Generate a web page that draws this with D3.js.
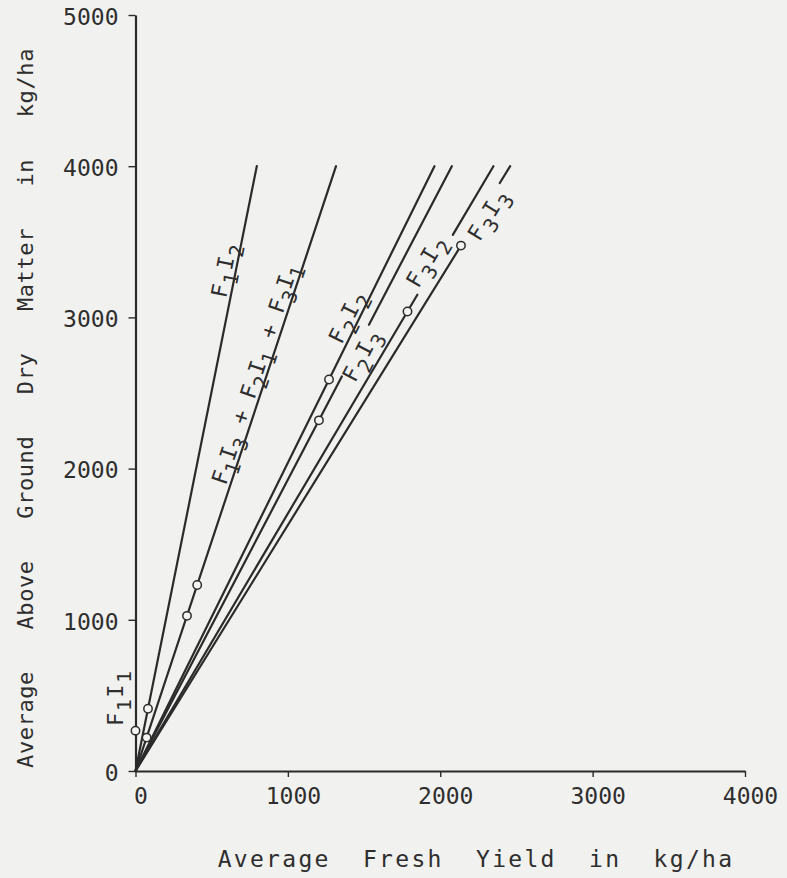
<!DOCTYPE html>
<html>
<head>
<meta charset="utf-8">
<script src="https://cdn.jsdelivr.net/npm/d3@7"></script>
<style>
  html, body { margin: 0; padding: 0; background: #f1f1ef; }
  svg text { font-family: "DejaVu Sans Mono", "Liberation Mono", monospace; fill: #2e2e2e; white-space: pre; }
</style>
</head>
<body>
<div class="chart"></div>
<script>
'use strict';
(function() {
  // Data (kg/ha)
  var lineNames = ['F1I2', 'F1I3 + F2I1 + F3I1', 'F2I2', 'F2I3', 'F3I2', 'F3I3'];
  var lineFreshAt4000 = [796, 1316, 1962, 2076, 2349, 2459];   // fresh yield where each line reaches 4000 dry matter
  var lineDryEnd = 4000;

  var pointNames = ['F1I1', 'F1I2', 'F1I3', 'F2I1', 'F3I1', 'F2I2', 'F2I3', 'F3I2', 'F3I3'];
  var pointFresh = [0, 82, 73, 338, 405, 1270, 1204, 1785, 2136];
  var pointDry = [267, 412, 221, 1026, 1230, 2589, 2319, 3039, 3475];

  var xTicks = [0, 1000, 2000, 3000, 4000];
  var yTicks = [0, 1000, 2000, 3000, 4000, 5000];

  // Label layout along each line (dry value of label centre, baseline offset, line gap)
  var labelLayout = [
    { at: 3301, side: 4 },
    { at: 2602, side: 4 },
    { at: 2972, side: 4 },
    { at: 2774, side: -15, gap: [2609, 2952] },
    { at: 3341, side: 2, gap: [3150, 3546] },
    { at: 3704, side: -14, gap: [3475, 3889] }
  ];

  var w = 787;
  var h = 878;
  var margin = { left: 135.5, right: 42, top: 15, bottom: 107 };
  var ink = '#2b2b2b';

  var svg = d3.select('.chart')
    .append('svg')
    .attr('width', w)
    .attr('height', h);

  svg.append('rect')
    .attr('width', w)
    .attr('height', h)
    .attr('fill', '#f1f1ef');

  var x = d3.scaleLinear().domain([0, 4000]).range([margin.left, w - margin.right]);
  var y = d3.scaleLinear().domain([0, 5000]).range([h - margin.bottom, margin.top]);

  // Axes
  var xAxis = d3.axisBottom(x)
    .tickValues(xTicks)
    .tickFormat(d3.format('d'))
    .tickSizeInner(6)
    .tickSizeOuter(0)
    .tickPadding(11);

  var gx = svg.append('g')
    .attr('transform', 'translate(0,' + y(0) + ')')
    .call(xAxis);
  gx.select('.domain').attr('stroke', ink).attr('stroke-width', 2.2);
  gx.selectAll('.tick line').attr('stroke', ink).attr('stroke-width', 1.4);
  gx.selectAll('.tick text')
    .attr('font-size', 23)
    .attr('dx', 5)
    .attr('fill', ink);

  var yAxis = d3.axisLeft(y)
    .tickValues(yTicks)
    .tickFormat(d3.format('d'))
    .tickSizeInner(7)
    .tickSizeOuter(0)
    .tickPadding(10);

  var gy = svg.append('g')
    .attr('transform', 'translate(' + x(0) + ',0)')
    .call(yAxis);
  gy.select('.domain').attr('stroke', ink).attr('stroke-width', 2.2);
  gy.selectAll('.tick line').attr('stroke', ink).attr('stroke-width', 1.4);
  gy.selectAll('.tick text')
    .attr('font-size', 23)
    .attr('dy', '0.4em')
    .attr('fill', ink);

  // Axis titles
  svg.append('text')
    .attr('x', 476)
    .attr('y', 867)
    .attr('text-anchor', 'middle')
    .attr('font-size', 23)
    .attr('letter-spacing', 2.3)
    .text('Average  Fresh  Yield  in  kg/ha');

  svg.append('text')
    .attr('transform', 'translate(33,' + 408 + ') rotate(-90)')
    .attr('text-anchor', 'middle')
    .attr('font-size', 22)
    .attr('letter-spacing', 0.6)
    .text('Average   Above   Ground   Dry   Matter   in   kg/ha');

  // Subscript label helper: digits become subscripts
  var addLabel = function(sel, str, size) {
    var subSize = Math.round(size * 0.9);
    var shift = Math.round(size * 0.35);
    var down = false;
    str.split('').forEach(function(ch) {
      var isSub = /[0-9]/.test(ch);
      var t = sel.append('tspan').text(ch);
      if (isSub) {
        t.attr('font-size', subSize);
        if (!down) { t.attr('dy', shift); down = true; }
      } else {
        t.attr('font-size', size);
        if (down) { t.attr('dy', -shift); down = false; }
      }
    });
  };

  // Lines from origin
  var lines = svg.append('g').attr('class', 'lines');
  lineNames.forEach(function(name, i) {
    var r = lineFreshAt4000[i] / lineDryEnd;
    var lay = labelLayout[i];
    var segs = lay.gap ? [[0, lay.gap[0]], [lay.gap[1], lineDryEnd]] : [[0, lineDryEnd]];
    segs.forEach(function(s) {
      lines.append('line')
        .attr('x1', x(s[0] * r)).attr('y1', y(s[0]))
        .attr('x2', x(s[1] * r)).attr('y2', y(s[1]))
        .attr('stroke', ink)
        .attr('stroke-width', 2.2)
        .attr('stroke-linecap', 'round');
    });

    var theta = Math.atan2(y(lineDryEnd) - y(0), x(lineFreshAt4000[i]) - x(0));
    var nx = Math.sin(theta), ny = -Math.cos(theta);
    var px = x(lay.at * r) + nx * lay.side;
    var py = y(lay.at) + ny * lay.side;
    var t = lines.append('text')
      .attr('transform', 'translate(' + px + ',' + py + ') rotate(' + (theta * 180 / Math.PI) + ')')
      .attr('text-anchor', 'middle')
      .attr('letter-spacing', name.length < 6 ? 1.5 : 0);
    addLabel(t, name, 22);
  });

  // Points
  svg.append('g')
    .selectAll('circle')
    .data(pointNames)
    .enter()
    .append('circle')
    .attr('cx', function(d, i) { return x(pointFresh[i]); })
    .attr('cy', function(d, i) { return y(pointDry[i]); })
    .attr('r', 4.2)
    .attr('fill', '#f4f4f2')
    .attr('stroke', ink)
    .attr('stroke-width', 1.5);

  // F1I1 label beside its point on the y axis
  var f11 = svg.append('text')
    .attr('transform', 'translate(' + (x(pointFresh[0]) - 13) + ',' + (y(pointDry[0]) - 33) + ') rotate(-90)')
    .attr('text-anchor', 'middle')
    .attr('letter-spacing', 1.5);
  addLabel(f11, pointNames[0], 22);
})();
</script>
</body>
</html>
